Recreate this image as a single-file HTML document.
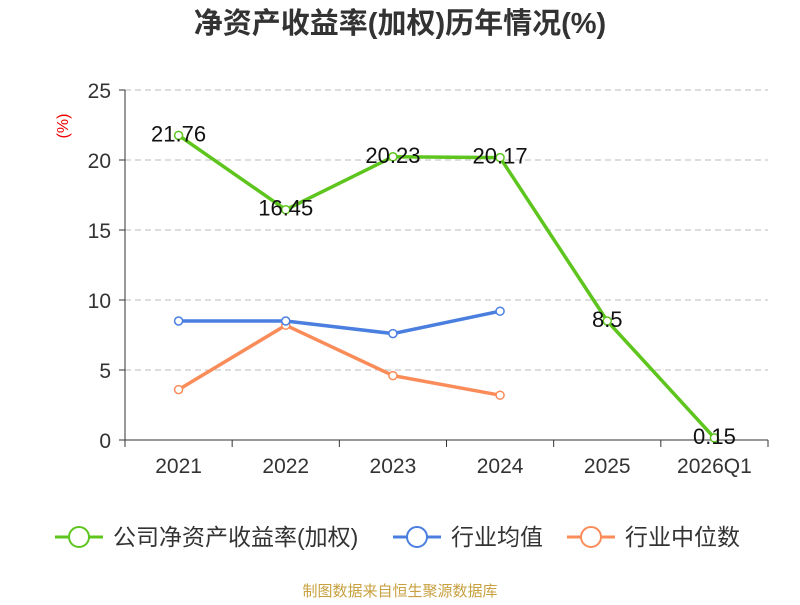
<!DOCTYPE html>
<html><head><meta charset="utf-8"><style>
body{margin:0;background:#fff;}
svg text{font-family:"Liberation Sans","Noto Sans CJK SC",sans-serif;}
</style></head><body>
<svg width="800" height="600">
<text x="400" y="33" text-anchor="middle" font-size="29" font-weight="bold" fill="#333">净资产收益率(加权)历年情况(%)</text>
<text x="68" y="126" text-anchor="middle" font-size="16" fill="#e00" transform="rotate(-90 68 126)">(%)</text>
<g id="grid"></g><g id="axes"></g><g id="series"></g>
<g>
<g><line x1="55" y1="537" x2="103" y2="537" stroke="#5ec51e" stroke-width="3"/><circle cx="79" cy="537" r="10" fill="#fff" stroke="#5ec51e" stroke-width="2"/><text x="113" y="545" font-size="23" fill="#333">公司净资产收益率(加权)</text></g>
<g><line x1="393" y1="537" x2="441" y2="537" stroke="#4a7fe0" stroke-width="3"/><circle cx="417" cy="537" r="10" fill="#fff" stroke="#4a7fe0" stroke-width="2"/><text x="451" y="545" font-size="23" fill="#333">行业均值</text></g>
<g><line x1="567" y1="537" x2="615" y2="537" stroke="#fa8c5a" stroke-width="3"/><circle cx="591" cy="537" r="10" fill="#fff" stroke="#fa8c5a" stroke-width="2"/><text x="625" y="545" font-size="23" fill="#333">行业中位数</text></g>
</g>
<text x="400" y="596" text-anchor="middle" font-size="15" fill="#c8a040">制图数据来自恒生聚源数据库</text>
</svg>
<script>
const categories=["2021","2022","2023","2024","2025","2026Q1"];
const companyVals=[21.76,16.45,20.23,20.17,8.5,0.15];
const avgVals=[8.5,8.5,7.6,9.2];
const medianVals=[3.6,8.2,4.6,3.2];
const yTicks=[0,5,10,15,20,25];
const NS="http://www.w3.org/2000/svg";
const x0=125,x1=768,yb=440,yt=90;
const bw=(x1-x0)/categories.length;
const X=i=>x0+bw*(i+0.5);
const Y=v=>yb-(v/25)*(yb-yt);
function mk(t,a,p){const e=document.createElementNS(NS,t);for(const k in a)e.setAttribute(k,a[k]);p.appendChild(e);return e;}
const grid=document.getElementById('grid'),axes=document.getElementById('axes'),ser=document.getElementById('series');
yTicks.forEach(v=>{
 if(v>0){const g=mk('line',{x1:x0,x2:x1,y1:Y(v),y2:Y(v),stroke:'#bbb','stroke-dasharray':'6,4'},grid);
 
 }
 mk('line',{x1:x0-6,x2:x0,y1:Y(v),y2:Y(v),stroke:'#333'},axes);
 const t=mk('text',{x:x0-14,y:Y(v)+8,'text-anchor':'end','font-size':21,fill:'#333'},axes);t.textContent=v;
 
 
});
mk('line',{x1:x0,x2:x0,y1:yt,y2:yb,stroke:'#333'},axes);
mk('line',{x1:x0,x2:x1,y1:yb,y2:yb,stroke:'#333'},axes);
for(let i=0;i<=categories.length;i++)mk('line',{x1:x0+bw*i,x2:x0+bw*i,y1:yb,y2:yb+7,stroke:'#333'},axes);
categories.forEach((c,i)=>{const t=mk('text',{x:X(i),y:473,'text-anchor':'middle','font-size':21,fill:'#333'},axes);t.textContent=c;
 
 });
function series(vals,color,name,labels){
 const g=mk('g',{},ser);
 
 
 mk('polyline',{points:vals.map((v,i)=>X(i)+','+Y(v)).join(' '),fill:'none',stroke:color,'stroke-width':3.5},g);
 vals.forEach((v,i)=>{const c=mk('circle',{cx:X(i),cy:Y(v),r:4,fill:'#fff',stroke:color,'stroke-width':1.5},g);
  
  
  if(labels){const t=mk('text',{x:X(i),y:Y(v)+6,'text-anchor':'middle','font-size':22,fill:'#111'},g);t.textContent=v;
  
  }});
}
series(medianVals,'#fa8c5a','industry-median-line',false);
series(avgVals,'#4a7fe0','industry-avg-line',false);
series(companyVals,'#5ec51e','company-roe-line',true);
</script>
</body></html>
